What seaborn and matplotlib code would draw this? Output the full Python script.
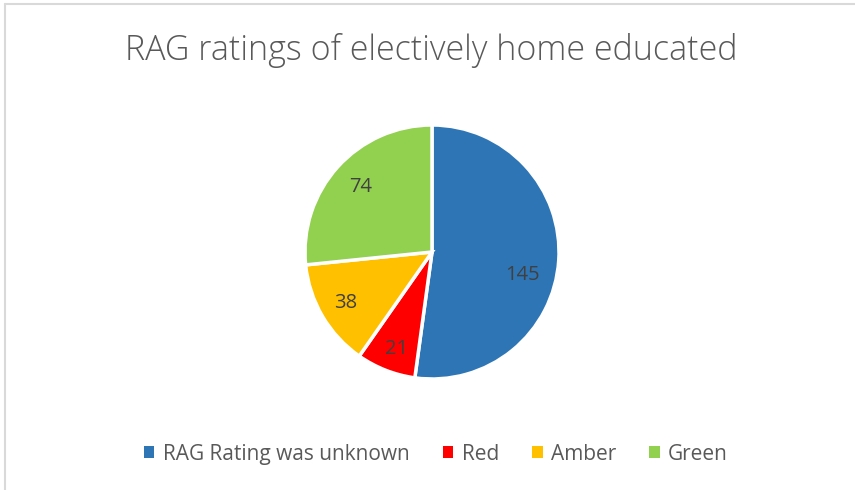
import matplotlib
matplotlib.use("Agg")
import matplotlib.pyplot as plt
import seaborn as sns
from matplotlib.patches import Patch
from matplotlib.lines import Line2D

categories = ["RAG Rating was unknown", "Red", "Amber", "Green"]
values = [145, 21, 38, 74]
colors = ["#2E75B6", "#FF0000", "#FFC000", "#92D050"]
title = "RAG ratings of electively home educated"
# data-label placement inside the pie (x, y in pie-radius units), as in the original
label_positions = [(0.71, -0.18), (-0.28, -0.76), (-0.68, -0.40), (-0.56, 0.51)]

sns.set_theme(style="white")
plt.rcParams["font.family"] = ["Open Sans", "DejaVu Sans"]

fig = plt.figure(figsize=(8.55, 4.9), dpi=100)
fig.patch.set_facecolor("white")

W, H = 855, 490
cx, cy, r = 432, 252, 127
ax = fig.add_axes([(cx - r) / W, (H - cy - r) / H, 2 * r / W, 2 * r / H])
palette = sns.color_palette(colors)
wedges, texts, autotexts = ax.pie(
    values, colors=palette, startangle=90, counterclock=False,
    autopct=lambda p: f"{round(p * sum(values) / 100):d}", pctdistance=0.76,
    wedgeprops=dict(edgecolor="white", linewidth=2.5),
    textprops=dict(color="#404040", fontsize=14.5),
)
for t, pos in zip(autotexts, label_positions):
    t.set_position(pos)
ax.set_aspect("equal")
ax.set_xlim(-1, 1)
ax.set_ylim(-1, 1)

fig.text(0.504, 0.897, title, ha="center", va="center", fontsize=24.5,
         color="#595959", fontweight="light")

handles = [Patch(facecolor=c, edgecolor="none") for c in colors]
fig.legend(handles, categories, loc="center", bbox_to_anchor=(0.51, 0.073),
           ncol=4, frameon=False, fontsize=15, labelcolor="#595959",
           handlelength=0.5, handleheight=0.5, handletextpad=0.4,
           columnspacing=1.6)

# chart frame (top and left edges visible)
fig.add_artist(Line2D([0.006, 1.0], [0.992, 0.992], transform=fig.transFigure,
                      color="#D9D9D9", linewidth=1.5))
fig.add_artist(Line2D([0.006, 0.006], [0.0, 0.992], transform=fig.transFigure,
                      color="#D9D9D9", linewidth=1.5))

fig.savefig("out.png", dpi=100, facecolor="white")
